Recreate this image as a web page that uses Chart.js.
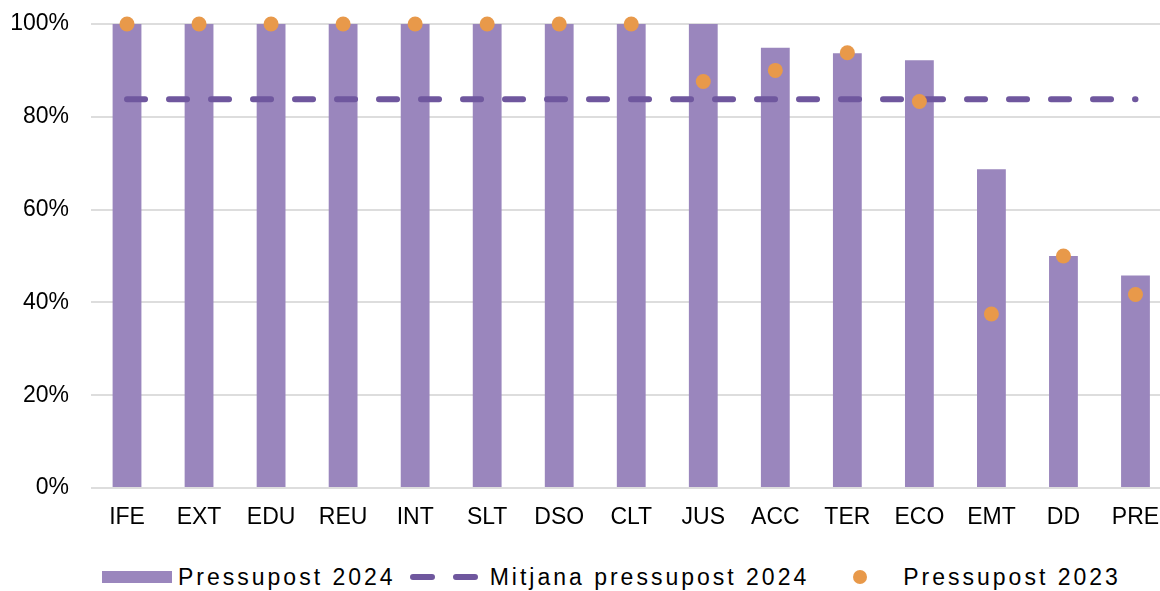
<!DOCTYPE html>
<html>
<head>
<meta charset="utf-8">
<script src="https://cdn.jsdelivr.net/npm/chart.js@4/dist/chart.umd.min.js"></script>
<style>
  html, body { margin: 0; padding: 0; background: #fff; overflow: hidden; width: 1160px; height: 591px; }
  #wrap { position: absolute; left: 0; top: 0; width: 1179px; height: 540px; }
  #legend {
    position: absolute; left: 102px; top: 564px; height: 26px;
    display: flex; align-items: center;
    font-family: "Liberation Sans", Arial, sans-serif; font-size: 23px;
    letter-spacing: 3px; color: #000; white-space: nowrap;
  }
  #legend .item { display: flex; align-items: center; }
  #legend .bar { width: 70px; height: 12px; margin-right: 6px; }
  #legend .dash { margin-right: 12px; }
  #legend .dot { width: 14px; height: 14px; border-radius: 50%; margin-left: 44px; margin-right: 36px; }
  #legend .gap { width: 14px; }
</style>
</head>
<body>
<div id="wrap"><canvas id="chart" width="1179" height="540"></canvas></div>
<div id="legend"></div>
<script>
// Departments on the x axis
const categories = ['IFE', 'EXT', 'EDU', 'REU', 'INT', 'SLT', 'DSO', 'CLT', 'JUS', 'ACC', 'TER', 'ECO', 'EMT', 'DD', 'PRE'];

// Budget 2024 (bars), in %
const pressupost2024 = [100, 100, 100, 100, 100, 100, 100, 100, 100, 94.9, 93.7, 92.2, 68.7, 50.0, 45.8];

// Budget 2023 (dots), in %
const pressupost2023 = [100, 100, 100, 100, 100, 100, 100, 100, 87.6, 90.0, 93.8, 83.3, 37.5, 50.0, 41.7];

// Average 2024 budget (dashed reference line), in %
const mitjana2024 = [83.8, 83.8, 83.8, 83.8, 83.8, 83.8, 83.8, 83.8, 83.8, 83.8, 83.8, 83.8, 83.8, 83.8, 83.8];

// Y axis ticks
const yTicks = [0, 20, 40, 60, 80, 100];

const COLOR_BAR = '#9A86BD';
const COLOR_LINE = '#6F579E';
const COLOR_DOT = '#E8994A';
const FONT = '"Liberation Sans", Arial, sans-serif';

const ctx = document.getElementById('chart').getContext('2d');
const chart = new Chart(ctx, {
  data: {
    labels: categories,
    datasets: [
      {
        type: 'line',
        label: 'Pressupost 2023',
        data: pressupost2023,
        showLine: false,
        pointRadius: 7.5,
        pointBorderWidth: 0,
        pointBackgroundColor: COLOR_DOT,
        backgroundColor: COLOR_DOT,
        borderColor: COLOR_DOT,
        clip: false,
        order: 0
      },
      {
        type: 'line',
        label: 'Mitjana pressupost 2024',
        data: mitjana2024,
        borderColor: COLOR_LINE,
        backgroundColor: COLOR_LINE,
        borderWidth: 6,
        borderDash: [18, 24],
        borderCapStyle: 'round',
        pointRadius: 0,
        tension: 0,
        clip: false,
        order: 1
      },
      {
        type: 'bar',
        label: 'Pressupost 2024',
        data: pressupost2024,
        backgroundColor: COLOR_BAR,
        borderWidth: 0,
        barPercentage: 0.4,
        categoryPercentage: 1.0,
        order: 2
      }
    ]
  },
  options: {
    responsive: false,
    animation: false,
    events: [],
    layout: { padding: { left: 10, top: 24, right: 0, bottom: 0 } },
    plugins: {
      legend: { display: false },
      tooltip: { enabled: false }
    },
    scales: {
      x: {
        type: 'category',
        offset: true,
        grid: { display: false, drawTicks: false },
        border: { display: false },
        ticks: {
          color: '#000',
          font: { family: FONT, size: 23 },
          padding: 16,
          maxRotation: 0,
          autoSkip: false
        },
        afterFit: (s) => { s.height = 52; }
      },
      y: {
        min: 0,
        max: 100,
        afterBuildTicks: (s) => { s.ticks = yTicks.map(v => ({ value: v })); },
        grid: { color: '#DDDDDD', lineWidth: 2, drawTicks: false },
        border: { display: false },
        ticks: {
          color: '#000',
          font: { family: FONT, size: 23 },
          padding: 22,
          callback: (v) => v + '%'
        },
        afterFit: (s) => { s.width = 81; s.paddingTop = 0; s.paddingBottom = 0; }
      }
    }
  }
});

// Legend built from the chart's datasets, in bar / line / dot order
(function buildLegend() {
  const el = document.getElementById('legend');
  const ds = chart.data.datasets;
  const bar = ds.find(d => d.type === 'bar');
  const line = ds.find(d => d.type === 'line' && d.showLine !== false);
  const dots = ds.find(d => d.type === 'line' && d.showLine === false);

  const i1 = document.createElement('div');
  i1.className = 'item';
  i1.innerHTML = '<span class="bar" style="background:' + bar.backgroundColor + '"></span><span></span>';
  i1.lastChild.textContent = bar.label;
  el.appendChild(i1);

  const g = document.createElement('div');
  g.className = 'gap';
  el.appendChild(g);

  const i2 = document.createElement('div');
  i2.className = 'item';
  i2.innerHTML = '<svg class="dash" width="68" height="6" viewBox="0 0 68 6">' +
    '<line x1="3" y1="3" x2="65" y2="3" stroke="' + line.borderColor + '" stroke-width="6" ' +
    'stroke-linecap="round" stroke-dasharray="19 24"/></svg><span></span>';
  i2.lastChild.textContent = line.label;
  el.appendChild(i2);

  const i3 = document.createElement('div');
  i3.className = 'item';
  i3.innerHTML = '<span class="dot" style="background:' + dots.pointBackgroundColor + '"></span><span></span>';
  i3.lastChild.textContent = dots.label;
  el.appendChild(i3);
})();
</script>
</body>
</html>
